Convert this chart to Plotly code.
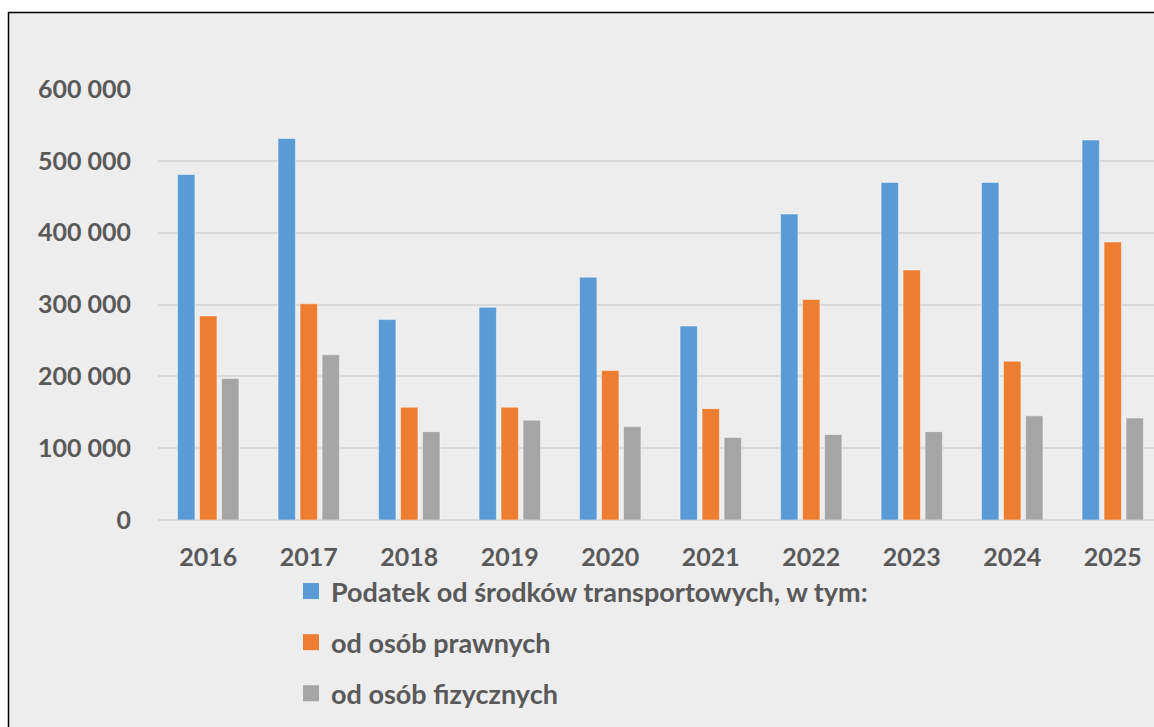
import plotly.graph_objects as go

years = ["2016", "2017", "2018", "2019", "2020", "2021", "2022", "2023", "2024", "2025"]
podatek_total = [481000, 531000, 279000, 296000, 338000, 270000, 426000, 470000, 470000, 529000]
osoby_prawne = [284000, 301000, 157000, 157000, 208000, 155000, 307000, 348000, 221000, 387000]
osoby_fizyczne = [197000, 230000, 123000, 139000, 130000, 115000, 119000, 123000, 145000, 142000]
series_names = ["Podatek od środków transportowych, w tym:", "od osób prawnych", "od osób fizycznych"]
series_colors = ["#5B9BD5", "#ED7D31", "#A5A5A5"]

W, H = 1154, 727
FONT = "Lato"
TXT = "#595959"


def px_x(sx):
    return sx / W


def px_y(sy):
    return (H - sy) / H


fig = go.Figure()
for vals, name, col in zip([podatek_total, osoby_prawne, osoby_fizyczne], series_names, series_colors):
    fig.add_trace(go.Bar(
        x=years, y=vals, name=name, showlegend=False,
        marker=dict(color=col, line=dict(color="rgba(255,255,255,0.45)", width=1)),
    ))
# legend entries with larger square swatches
for i, (name, col) in enumerate(zip(series_names, series_colors)):
    fig.add_trace(go.Scatter(
        x=[None], y=[None], mode="markers", name=name, legendgroup="g%d" % i,
        marker=dict(symbol="square", size=16, color=col, line=dict(width=0)),
        showlegend=True, hoverinfo="skip",
    ))

# plot area in screen pixels
x_left = 158
y_zero = 520
y_top = 89
cat_px = 100.5
x_span = (W - x_left) / cat_px

fig.update_layout(
    width=W, height=H,
    margin=dict(l=0, r=0, t=0, b=0, autoexpand=False),
    paper_bgcolor="white",
    plot_bgcolor="rgba(0,0,0,0)",
    separators=", ",
    barmode="group",
    bargap=0.343,
    bargroupgap=0.21,
    font=dict(family=FONT, color=TXT),
    xaxis=dict(
        domain=[px_x(x_left), 1],
        type="category",
        range=[-0.5, -0.5 + x_span],
        showgrid=False, showline=False, zeroline=False, ticks="",
        tickfont=dict(family=FONT, size=25, color=TXT, weight="bold"),
        ticklabelstandoff=20,
    ),
    yaxis=dict(
        domain=[px_y(y_zero), px_y(y_top)],
        range=[0, 600000],
        tickvals=[0, 100000, 200000, 300000, 400000, 500000, 600000],
        tickformat=",d",
        showgrid=True, gridcolor="#D9D9D9", gridwidth=1.5,
        zeroline=True, zerolinecolor="#D9D9D9", zerolinewidth=2,
        showline=False, ticks="",
        tickfont=dict(family=FONT, size=25, color=TXT, weight="bold"),
        ticklabelstandoff=26,
    ),
    showlegend=True,
    legend=dict(
        x=px_x(291), y=px_y(567), xanchor="left", yanchor="top",
        font=dict(family=FONT, size=27, color=TXT, weight="bold"),
        bgcolor="rgba(0,0,0,0)", borderwidth=0,
        traceorder="grouped", tracegroupgap=13, itemsizing="trace",
    ),
    shapes=[dict(
        type="rect", xref="paper", yref="paper", layer="below",
        x0=px_x(8.5), x1=1.05, y0=-0.05, y1=px_y(12.5),
        fillcolor="#EDEDED", line=dict(color="black", width=1.5),
    )],
)

fig.write_html(
    "out.html",
    config={"displayModeBar": False},
    post_script="document.body.style.margin='0';document.body.style.overflow='hidden';",
)
